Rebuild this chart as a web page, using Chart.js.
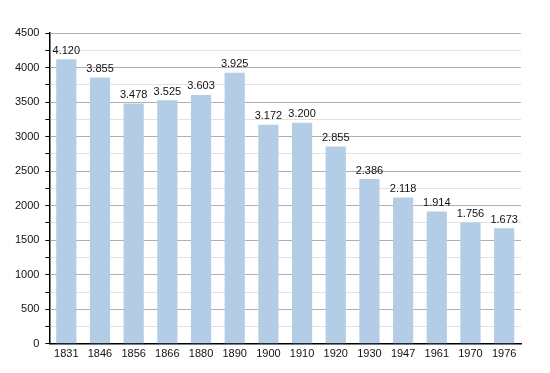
<!DOCTYPE html>
<html>
<head>
<meta charset="utf-8">
<script src="https://cdn.jsdelivr.net/npm/chart.js@4"></script>
<style>
  html, body { margin: 0; padding: 0; background: #fff; }
  #wrap { width: 550px; height: 373px; }
</style>
</head>
<body>
<div id="wrap"><canvas id="popChart"></canvas></div>
<script>
const years = ['1831', '1846', '1856', '1866', '1880', '1890', '1900', '1910', '1920', '1930', '1947', '1961', '1970', '1976'];
const population = [4120, 3855, 3478, 3525, 3603, 3925, 3172, 3200, 2855, 2386, 2118, 1914, 1756, 1673];
const yMax = 4500;
const yStep = 250;

// thousands with a dot, like 4.120
function fmt(v) {
  return String(v).replace(/\B(?=(\d{3})+(?!\d))/g, '.');
}

// value labels above the bars
const valueLabels = {
  id: 'valueLabels',
  afterDatasetsDraw(chart) {
    const ctx = chart.ctx;
    const meta = chart.getDatasetMeta(0);
    ctx.save();
    ctx.font = '11px "Liberation Sans", Arial, sans-serif';
    ctx.fillStyle = '#111';
    ctx.textAlign = 'center';
    ctx.textBaseline = 'bottom';
    meta.data.forEach((bar, i) => {
      ctx.fillText(fmt(population[i]), bar.x, bar.y - 3);
    });
    ctx.restore();
  }
};

const ctx = document.getElementById('popChart').getContext('2d');
new Chart(ctx, {
  type: 'bar',
  data: {
    labels: years,
    datasets: [{
      data: population,
      backgroundColor: '#b3cde6',
      borderWidth: 0,
      categoryPercentage: 1,
      barPercentage: 0.6
    }]
  },
  options: {
    responsive: true,
    maintainAspectRatio: false,
    animation: false,
    layout: { padding: { top: 33, right: 29, left: 9, bottom: 8 } },
    plugins: {
      legend: { display: false },
      tooltip: { enabled: false }
    },
    scales: {
      x: {
        grid: { display: false, drawTicks: false },
        border: { display: true, color: '#000', width: 1.5 },
        ticks: {
          color: '#111',
          padding: 4,
          maxRotation: 0,
          autoSkip: false,
          font: { family: '"Liberation Sans", Arial, sans-serif', size: 11 }
        }
      },
      y: {
        min: 0,
        max: yMax,
        grid: {
          color: c => (c.tick.value % 500 === 0 ? '#b0b0b0' : '#e2e2e2'),
          tickColor: '#000',
          tickLength: 4
        },
        border: { display: true, color: '#000', width: 1.5 },
        ticks: {
          stepSize: yStep,
          autoSkip: false,
          color: '#111',
          padding: 6,
          font: { family: '"Liberation Sans", Arial, sans-serif', size: 11 },
          callback: v => (v % 500 === 0 ? v : '')
        }
      }
    }
  },
  plugins: [valueLabels]
});
</script>
</body>
</html>
